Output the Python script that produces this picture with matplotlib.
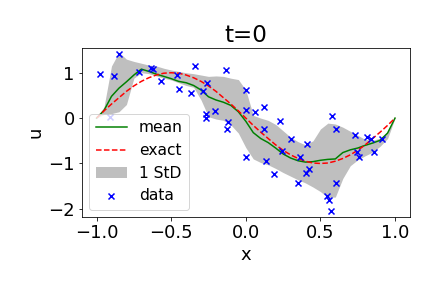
import matplotlib
matplotlib.use("Agg")
import matplotlib.pyplot as plt
import numpy as np

# grid for curves
x_grid = [-1.00, -0.95, -0.90, -0.85, -0.80, -0.75, -0.70, -0.65, -0.60, -0.55,
          -0.50, -0.45, -0.40, -0.35, -0.30, -0.25, -0.20, -0.15, -0.10, -0.05,
          0.00, 0.05, 0.10, 0.15, 0.20, 0.25, 0.30, 0.35, 0.40, 0.45,
          0.50, 0.55, 0.60, 0.65, 0.70, 0.75, 0.80, 0.85, 0.90, 0.95, 1.00]

mean_u = [0.00, 0.17, 0.48, 0.66, 0.80, 0.95, 1.08, 1.03, 0.97, 0.92,
          0.87, 0.81, 0.78, 0.72, 0.62, 0.47, 0.40, 0.35, 0.28, 0.14,
          -0.07, -0.32, -0.45, -0.54, -0.66, -0.79, -0.88, -0.94, -0.97, -0.96,
          -0.93, -0.91, -0.90, -0.76, -0.70, -0.66, -0.60, -0.55, -0.49, -0.33, 0.00]

upper_u = [0.00, 0.25, 1.15, 1.45, 1.30, 1.25, 1.21, 1.17, 1.15, 1.10,
           1.06, 1.03, 1.00, 0.98, 0.95, 0.92, 0.93, 0.92, 0.88, 0.85,
           0.62, 0.06, 0.00, -0.05, -0.14, -0.28, -0.42, -0.52, -0.59, -0.50,
           -0.24, -0.11, -0.13, -0.20, -0.29, -0.38, -0.47, -0.49, -0.44, -0.30, 0.00]

lower_u = [0.00, 0.08, 0.10, 0.14, 0.30, 0.88, 1.00, 0.98, 0.93, 0.88,
           0.84, 0.78, 0.72, 0.68, 0.40, 0.03, -0.02, -0.05, -0.15, -0.33,
           -0.65, -0.90, -0.98, -1.03, -1.11, -1.20, -1.28, -1.36, -1.43, -1.52,
           -1.62, -1.75, -1.74, -1.33, -1.05, -0.92, -0.83, -0.75, -0.62, -0.45, 0.00]

exact_u = [0.00, 0.16, 0.31, 0.45, 0.59, 0.71, 0.81, 0.89, 0.95, 0.99,
           1.00, 0.99, 0.95, 0.89, 0.81, 0.71, 0.59, 0.45, 0.31, 0.16,
           0.00, -0.16, -0.31, -0.45, -0.59, -0.71, -0.81, -0.89, -0.95, -0.99,
           -1.00, -0.99, -0.95, -0.89, -0.81, -0.71, -0.59, -0.45, -0.31, -0.16, 0.00]

data_x = [-0.98, -0.913, -0.884, -0.849, -0.714, -0.636, -0.623, -0.568, -0.462, -0.448,
          -0.367, -0.340, -0.290, -0.266, -0.270, -0.260, -0.206, -0.134, -0.122, -0.126,
          0.000, 0.000, -0.002, 0.062, 0.122, 0.122, 0.134, 0.189, 0.229, 0.243,
          0.301, 0.351, 0.362, 0.409, 0.401, 0.421, 0.544, 0.556, 0.569, 0.576,
          0.604, 0.602, 0.735, 0.746, 0.760, 0.814, 0.842, 0.862, 0.910]
data_u = [0.97, 0.02, 0.92, 1.41, 1.01, 1.10, 1.08, 0.82, 0.94, 0.65,
          0.55, 1.15, 0.60, 0.10, 0.01, 0.78, 0.15, 1.07, -0.08, -0.23,
          0.63, 0.18, -0.86, 0.13, 0.24, -0.23, -0.95, -1.24, -0.07, -0.72,
          -0.47, -1.43, -0.86, -0.58, -1.22, -1.12, -1.72, -1.81, -2.04, 0.04,
          -0.24, -1.44, -0.38, -0.75, -0.86, -0.42, -0.46, -0.75, -0.47]

fig = plt.figure(figsize=(6, 4), dpi=72)
ax = fig.add_subplot(111)
fig.subplots_adjust(left=0.189, right=0.949, bottom=0.245, top=0.834)

ax.plot(x_grid, mean_u, color="green", lw=1.5, label="mean")
ax.plot(x_grid, exact_u, "r--", lw=1.5, label="exact")
ax.fill_between(x_grid, lower_u, upper_u, color="gray", alpha=0.5, lw=0, label="1 StD")
ax.scatter(data_x, data_u, marker="x", color="blue", s=36, label="data", zorder=3)

ax.set_xlim(-1.1, 1.1)
ax.set_ylim(-2.19, 1.55)
ax.set_xticks([-1.0, -0.5, 0.0, 0.5, 1.0])
ax.set_yticks([-2, -1, 0, 1])
ax.tick_params(labelsize=18)
ax.set_xlabel("x", fontsize=18)
ax.set_ylabel("u", fontsize=18)
ax.set_title("t=0", fontsize=23)
ax.legend(loc="lower left", fontsize=15.5)

fig.savefig("out.png", dpi=72)
